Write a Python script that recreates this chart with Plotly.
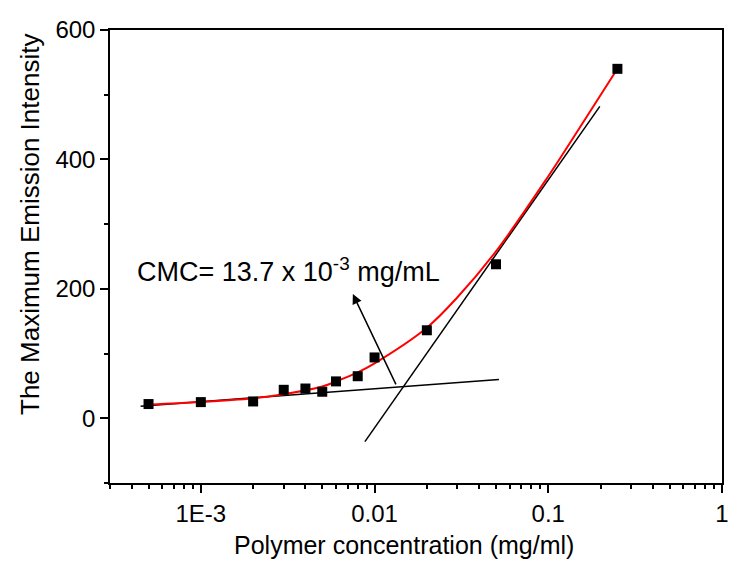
import math
import plotly.graph_objects as go

# Measured data points
conc = [5e-4, 1e-3, 2e-3, 3e-3, 4e-3, 5e-3, 6e-3, 8e-3, 0.01, 0.02, 0.05, 0.25]
intensity = [22, 25, 26, 44, 46, 41, 57, 65, 94, 136, 238, 540]

# Red fitted curve
fit_conc = [5e-4, 1e-3, 2e-3, 3e-3, 5e-3, 6e-3, 8e-3, 0.01, 0.02, 0.03, 0.05, 0.1, 0.15, 0.25]
fit_intensity = [21, 25, 31, 37, 49, 57, 71, 85, 140, 187, 258, 374, 447, 540]

# Tangent lines
low_line_conc = [4.5e-4, 0.052]
low_line_int = [18.6, 60]
high_line_conc = [0.0088, 0.198]
high_line_int = [-36, 482]

# CMC arrow (tail at intersection, head at label)
arrow_tail = (0.0134, 50)
arrow_head = (0.0075, 192)
cmc_text = "CMC= 13.7 x 10<sup>-3</sup> mg/mL"

x_title = "Polymer concentration (mg/ml)"
y_title = "The Maximum Emission Intensity"
x_tickvals = [1e-3, 1e-2, 1e-1, 1]
x_ticktext = ["1E-3", "0.01", "0.1", "1"]
y_tickvals = [0, 200, 400, 600]

FONT = "Arial, Liberation Sans, sans-serif"

minor_x = [m * 10 ** e for e in range(-4, 0) for m in range(2, 10) if 3e-4 <= m * 10 ** e <= 1]

fig = go.Figure()
fig.add_trace(go.Scatter(x=low_line_conc, y=low_line_int, mode="lines",
                         line=dict(color="black", width=1.5), showlegend=False))
fig.add_trace(go.Scatter(x=high_line_conc, y=high_line_int, mode="lines",
                         line=dict(color="black", width=1.5), showlegend=False))
fig.add_trace(go.Scatter(x=fit_conc, y=fit_intensity, mode="lines",
                         line=dict(color="#ff0000", width=2, shape="spline", smoothing=1.0),
                         showlegend=False))
fig.add_trace(go.Scatter(x=conc, y=intensity, mode="markers",
                         marker=dict(symbol="square", size=10, color="black"),
                         showlegend=False))

fig.add_annotation(x=math.log10(arrow_head[0]), y=arrow_head[1],
                   ax=math.log10(arrow_tail[0]), ay=arrow_tail[1],
                   xref="x", yref="y", axref="x", ayref="y",
                   text="", showarrow=True, arrowhead=2, arrowsize=1.3,
                   arrowwidth=1.5, arrowcolor="black")
fig.add_annotation(x=math.log10(4.2e-4), y=229, xref="x", yref="y",
                   text=cmc_text, showarrow=False, xanchor="left", yanchor="middle",
                   font=dict(family=FONT, size=27, color="black"))

# Axis titles placed as annotations (offset like the original)
fig.add_annotation(x=(404 - 110) / 612, y=(483 - 545) / 453, xref="paper", yref="paper",
                   text=x_title, showarrow=False, xanchor="center", yanchor="middle",
                   font=dict(family=FONT, size=25, color="black"))
fig.add_annotation(x=(30 - 110) / 612, y=(483 - 225) / 453, xref="paper", yref="paper",
                   text=y_title, showarrow=False, textangle=-90,
                   xanchor="center", yanchor="middle",
                   font=dict(family=FONT, size=26, color="black"))

fig.update_layout(
    width=732, height=568,
    margin=dict(l=110, r=10, t=30, b=85, autoexpand=False),
    paper_bgcolor="white", plot_bgcolor="white",
    font=dict(family=FONT, color="black"),
)
fig.update_xaxes(
    type="log", range=[math.log10(3e-4), 0], automargin=False,
    tickmode="array", tickvals=x_tickvals, ticktext=x_ticktext,
    ticks="outside", ticklen=8, tickwidth=1.5, tickcolor="black",
    tickfont=dict(size=24, family=FONT),
    showline=True, linecolor="black", linewidth=1.5, mirror=True,
    showgrid=False, zeroline=False,
    minor=dict(tickmode="array", tickvals=minor_x, ticks="outside", ticklen=4,
               tickwidth=1.5, tickcolor="black", showgrid=False),
)
fig.update_yaxes(
    range=[-100, 600], automargin=False,
    tickmode="array", tickvals=y_tickvals,
    ticks="outside", ticklen=8, tickwidth=1.5, tickcolor="black",
    tickfont=dict(size=24, family=FONT),
    showline=True, linecolor="black", linewidth=1.5, mirror=True,
    showgrid=False, zeroline=False,
    minor=dict(dtick=100, tick0=0, ticks="outside", ticklen=4, tickwidth=1.5,
               tickcolor="black", showgrid=False),
)

fig.write_html("out.html", config={"displayModeBar": False},
               post_script="document.body.style.margin='0';document.body.style.overflow='hidden';")
